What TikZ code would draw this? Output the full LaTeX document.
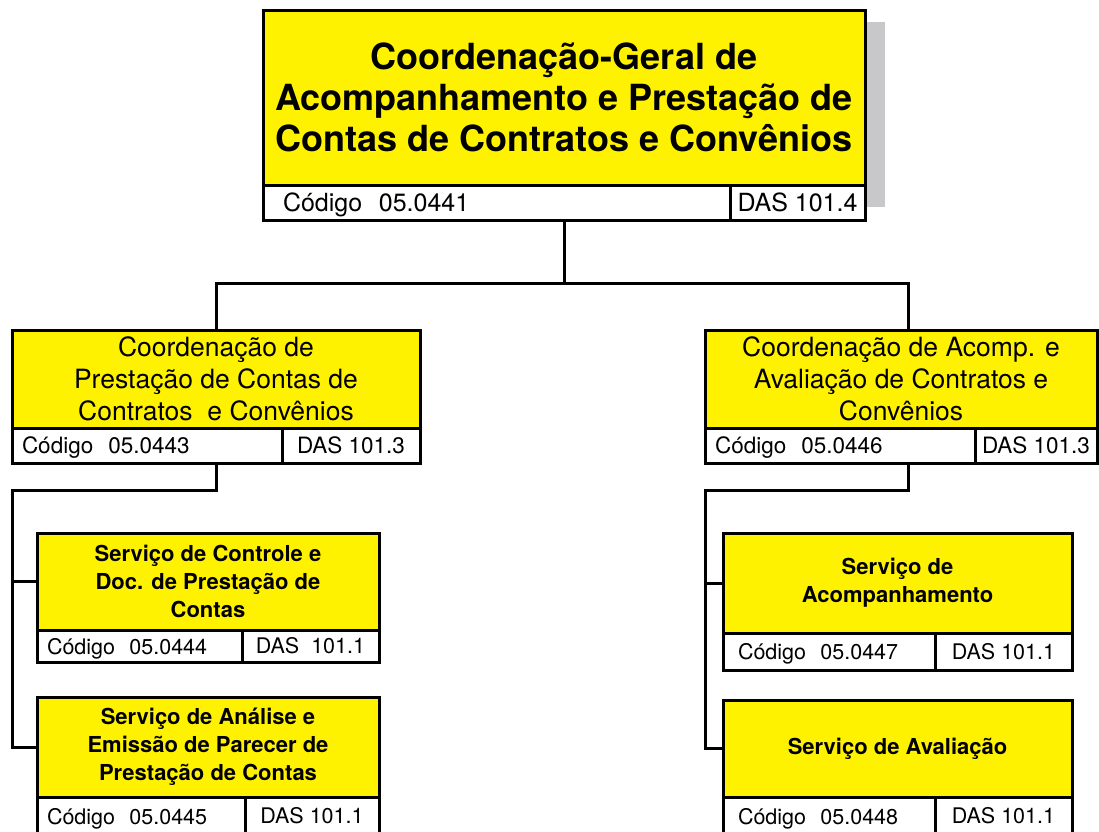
\documentclass[tikz,border=0pt]{standalone}
\usepackage{fontspec}
\setmainfont{TeX Gyre Heros}
\usetikzlibrary{positioning,calc}
\definecolor{amarelo}{RGB}{255,242,0}
\definecolor{sombra}{RGB}{200,200,202}

\begin{document}
\begin{tikzpicture}[x=1pt, y=-1pt,
    caixa/.style={draw, line width=3pt, fill=amarelo, align=center, anchor=north west, inner sep=0pt, outer sep=0pt},
    codigo/.style={draw, line width=3pt, fill=white, anchor=north west, inner ysep=0pt, inner xsep=10pt, outer sep=0pt, align=left, text height=16pt, text depth=0pt},
    das/.style={draw, line width=3pt, fill=white, anchor=north east, inner sep=0pt, outer sep=0pt},
    liga/.style={line width=3pt}]

    \useasboundingbox (0,0) rectangle (1099,831);

    % 顶部框
    \node[caixa, minimum width=602pt, minimum height=175pt, font=\fontsize{36}{41}\selectfont\bfseries] (cg) at (263,10)
        {Coordenação-Geral de\\Acompanhamento e Prestação de\\Contas de Contratos e Convênios};
    \node[codigo, inner xsep=20pt, text width=427pt, text height=18pt, minimum height=35pt, font=\fontsize{25}{28}\selectfont] (cgcod) at (cg.south west) {Código\ \ 05.0441};
    \node[das, minimum width=135pt, minimum height=35pt, font=\fontsize{25}{28}\selectfont] (cgdas) at (cg.south east) {DAS 101.4};
    \fill[sombra] ([xshift=1.5pt, yshift=-12pt]cg.north east) rectangle ([xshift=20pt, yshift=13pt]cgdas.south east);

    % 两个协调处
    \node[caixa, minimum width=408pt, minimum height=98pt, font=\fontsize{26.5}{32}\selectfont] (cpc) at (12,330)
        {Coordenação de\\Prestação de Contas de\\Contratos\ \ e Convênios};
    \node[codigo, text width=250pt, minimum height=35pt, font=\fontsize{22.5}{26}\selectfont] (cpccod) at (cpc.south west) {Código\ \ 05.0443};
    \node[das, minimum width=138pt, minimum height=35pt, font=\fontsize{22.5}{26}\selectfont] (cpcdas) at (cpc.south east) {DAS 101.3};

    \node[caixa, minimum width=392pt, minimum height=98pt, font=\fontsize{26.5}{32}\selectfont] (cac) at (705,330)
        {Coordenação de Acomp. e\\Avaliação de Contratos e\\Convênios};
    \node[codigo, text width=250pt, minimum height=35pt, font=\fontsize{22.5}{26}\selectfont] (caccod) at (cac.south west) {Código\ \ 05.0446};
    \node[das, minimum width=122pt, minimum height=35pt, font=\fontsize{22.5}{26}\selectfont] (cacdas) at (cac.south east) {DAS 101.3};

    % 左侧服务
    \node[caixa, minimum width=342pt, minimum height=97pt, font=\fontsize{22}{28}\selectfont\bfseries] (scd) at (37,533)
        {Serviço de Controle e\\Doc. de Prestação de\\Contas};
    \node[codigo, text width=185pt, minimum height=32pt, font=\fontsize{21.5}{25}\selectfont] (scdcod) at (scd.south west) {Código\ \ 05.0444};
    \node[das, minimum width=137pt, minimum height=32pt, font=\fontsize{21.5}{25}\selectfont] (scddas) at (scd.south east) {DAS\ \ 101.1};

    \node[caixa, minimum width=342pt, minimum height=100pt, font=\fontsize{22}{28}\selectfont\bfseries] (sae) at (37,697)
        {Serviço de Análise e\\Emissão de Parecer de\\Prestação de Contas};
    \node[codigo, text width=188pt, minimum height=38pt, font=\fontsize{21.5}{25}\selectfont] (saecod) at (sae.south west) {Código\ \ 05.0445};
    \node[das, minimum width=134pt, minimum height=38pt, font=\fontsize{21.5}{25}\selectfont] (saedas) at (sae.south east) {DAS 101.1};

    % 右侧服务
    \node[caixa, minimum width=349pt, minimum height=100pt, font=\fontsize{22}{28}\selectfont\bfseries] (sac) at (723,533)
        {Serviço de\\Acompanhamento};
    \node[codigo, inner xsep=15pt, text width=182pt, minimum height=37pt, font=\fontsize{21.5}{25}\selectfont] (saccod) at (sac.south west) {Código\ \ 05.0447};
    \node[das, minimum width=137pt, minimum height=37pt, font=\fontsize{21.5}{25}\selectfont] (sacdas) at (sac.south east) {DAS 101.1};

    \node[caixa, minimum width=349pt, minimum height=97pt, font=\fontsize{22}{28}\selectfont\bfseries] (sav) at (723,700)
        {Serviço de Avaliação};
    \node[codigo, inner xsep=15pt, text width=182pt, minimum height=38pt, font=\fontsize{21.5}{25}\selectfont] (savcod) at (sav.south west) {Código\ \ 05.0448};
    \node[das, minimum width=137pt, minimum height=38pt, font=\fontsize{21.5}{25}\selectfont] (savdas) at (sav.south east) {DAS 101.1};

    % 连线
    \coordinate (topo) at (cg.center |- cgcod.south);
    \coordinate (cruz) at ($(topo)+(0,63)$);
    \draw[liga] (topo) -- (cruz);
    \draw[liga] (cpc.north) |- (cruz) -| ($(cac.north)+(7,0)$);

    \draw[liga] (cpc.center |- cpccod.south) -- ++(0,27) -| (cpc.west |- sae.west) -- (sae.west);
    \draw[liga] (cpc.west |- scd.west) -- (scd.west);

    \draw[liga] ($(cac.center |- caccod.south)+(7,0)$) -- ++(0,27) -| (cac.west |- sav.west) -- (sav.west);
    \draw[liga] (cac.west |- sac.west) -- (sac.west);

\end{tikzpicture}
\end{document}
